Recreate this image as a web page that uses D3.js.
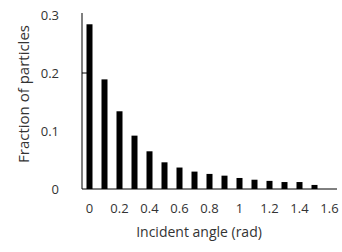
<!DOCTYPE html>
<html lang="en">
  <head>
    <meta charset="UTF-8" />
    <script src="https://d3js.org/d3.v7.min.js"></script>
    <title>Incident angle</title>
    <style>
      body { margin: 0; background: #fff; }
      text { font-family: "Open Sans", sans-serif; fill: #333; }
    </style>
  </head>
  <body>
    <svg id="chart" width="342" height="252"></svg>

    <script>
      // angle categories (rad), one bar each
      const angles = [0, 0.1, 0.2, 0.3, 0.4, 0.5, 0.6, 0.7, 0.8, 0.9, 1, 1.1, 1.2, 1.3, 1.4, 1.5, 1.6];
      const fractions = [0.284, 0.189, 0.134, 0.092, 0.065, 0.046, 0.037, 0.030, 0.026, 0.023, 0.019, 0.016, 0.014, 0.012, 0.012, 0.007, 0];
      const xTickLabels = [0, 0.2, 0.4, 0.6, 0.8, 1, 1.2, 1.4, 1.6];
      const yTicks = [0, 0.1, 0.2, 0.3];

      const svg = d3.select("#chart");
      const margin = { left: 82, right: 5, top: 13, bottom: 63 };
      const width = +svg.attr("width");
      const height = +svg.attr("height");

      const x = d3
        .scaleBand()
        .domain(angles)
        .range([margin.left, width - margin.right])
        .paddingInner(0.6)
        .paddingOuter(0.3);

      const y = d3
        .scaleLinear()
        .domain([0, 0.3])
        .range([height - margin.bottom, margin.top + 2]);

      // bars
      svg
        .append("g")
        .selectAll("rect")
        .data(angles)
        .enter()
        .append("rect")
        .attr("x", (d) => x(d))
        .attr("width", x.bandwidth())
        .attr("y", (d, i) => y(fractions[i]))
        .attr("height", (d, i) => y(0) - y(fractions[i]))
        .attr("fill", "#000");

      // x axis
      const xAxis = svg
        .append("g")
        .attr("transform", `translate(0,${y(0)})`)
        .call(
          d3
            .axisBottom(x)
            .tickValues(xTickLabels)
            .tickSize(0)
            .tickPadding(15)
        );
      xAxis.select(".domain").attr("stroke", "#000").attr("d", `M${margin.left},0H${width - margin.right}`);
      xAxis.selectAll("text").style("font-size", "13px");

      // y axis
      const yAxis = svg
        .append("g")
        .attr("transform", `translate(${margin.left},0)`)
        .call(
          d3
            .axisLeft(y)
            .tickValues(yTicks)
            .tickFormat((d) => (d === 0 ? "0" : d3.format(".1f")(d)))
            .tickSize(0)
            .tickPadding(23)
        );
      yAxis.select(".domain").attr("stroke", "#000").attr("d", `M0,${margin.top}V${y(0)}`);
      yAxis.selectAll("text").style("font-size", "13px");

      // short inner tick at 0.2
      svg
        .append("line")
        .attr("x1", margin.left)
        .attr("x2", margin.left + 5)
        .attr("y1", y(0.2))
        .attr("y2", y(0.2))
        .attr("stroke", "#000");

      // axis titles
      svg
        .append("text")
        .attr("x", 199)
        .attr("y", 237)
        .attr("text-anchor", "middle")
        .style("font-size", "14px")
        .text("Incident angle (rad)");

      svg
        .append("text")
        .attr("transform", `translate(29,${94}) rotate(-90)`)
        .attr("text-anchor", "middle")
        .style("font-size", "15px")
        .text("Fraction of particles");
    </script>
  </body>
</html>
